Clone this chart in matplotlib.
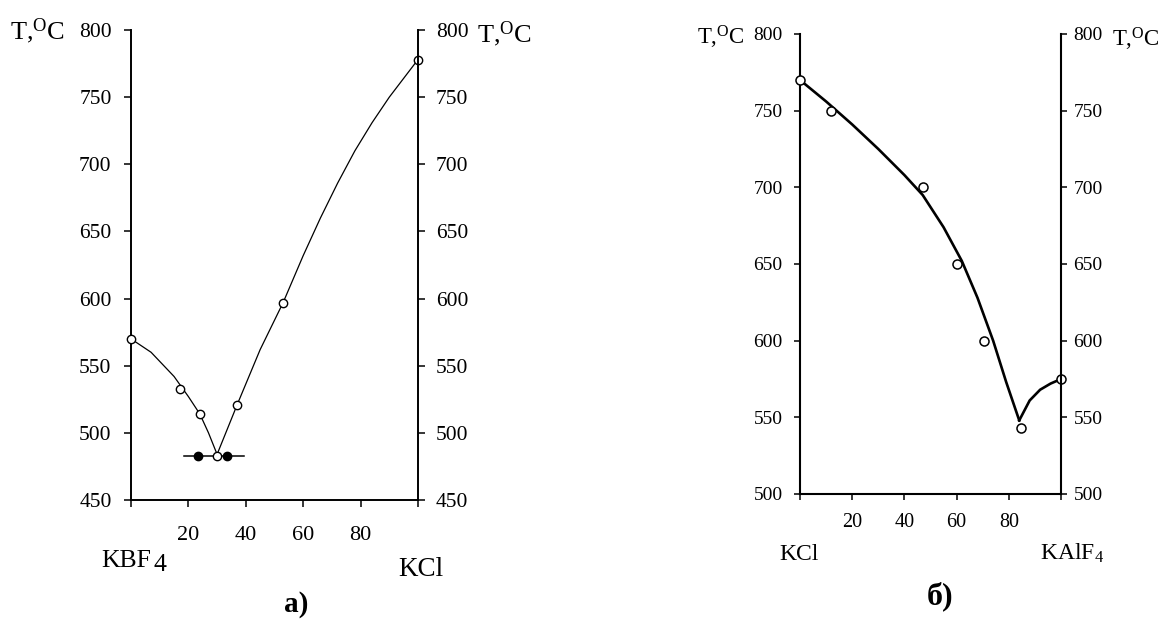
import matplotlib
matplotlib.use("Agg")
import matplotlib.pyplot as plt

plt.rcParams['font.family'] = ['Liberation Serif', 'DejaVu Serif']
plt.rcParams['mathtext.fontset'] = 'custom'
plt.rcParams['mathtext.rm'] = 'Liberation Serif'
plt.rcParams['mathtext.it'] = 'Liberation Serif:italic'
plt.rcParams['mathtext.bf'] = 'Liberation Serif:bold'

# ---------------- data: panel a) KBF4 - KCl ----------------
a_x_open = [0, 17, 24, 30, 37, 53, 100]
a_T_open = [570, 533, 514, 483, 521, 597, 778]
a_x_solid = [23.5, 33.5]
a_T_solid = [483, 483]
a_tie_x = [18.5, 39.5]
a_tie_T = [483, 483]
a_left_x = [0, 7, 15, 20, 24, 27, 30]
a_left_T = [570, 560, 542, 527, 514, 500, 484]
a_right_x = [30, 37, 45, 53, 60, 66, 72, 78, 84, 90, 95, 100]
a_right_T = [484, 521, 562, 597, 632, 660, 686, 710, 731, 750, 764, 778]
a_yticks = [450, 500, 550, 600, 650, 700, 750, 800]
a_xticks = [0, 20, 40, 60, 80, 100]
a_xticklabels = ['', '20', '40', '60', '80', '']

# ---------------- data: panel б) KCl - KAlF4 ----------------
b_x_open = [0, 12, 47, 60, 70.5, 84.5, 100]
b_T_open = [770, 750, 700, 650, 600, 543, 575]
b_left_x = [0, 10, 20, 30, 40, 47, 55, 62, 68, 74, 79, 84]
b_left_T = [770, 756, 741, 725, 708, 695, 674, 652, 628, 600, 573, 548]
b_right_x = [84, 88, 92, 96, 100]
b_right_T = [548, 561, 568, 572, 575]
b_yticks = [500, 550, 600, 650, 700, 750, 800]
b_xticks = [0, 20, 40, 60, 80, 100]
b_xticklabels = ['', '20', '40', '60', '80', '']

W, H = 1167, 619
fig = plt.figure(figsize=(W / 100, H / 100), dpi=100)
fig.patch.set_facecolor('white')


def px_axes(l, r, t, b):
    return fig.add_axes([l / W, 1 - b / H, (r - l) / W, (b - t) / H])


def style(ax, ax2, ylim, yticks, xticks, xlabels, fs, xfs, tl, xpad, lpad, rpad, spw):
    ax.set_xlim(0, 100)
    ax.set_ylim(*ylim)
    ax2.set_ylim(*ylim)
    ax.set_yticks(yticks)
    ax2.set_yticks(yticks)
    ax.set_xticks(xticks)
    ax.set_xticklabels(xlabels)
    for a in (ax, ax2):
        a.spines['top'].set_visible(False)
        for s in a.spines.values():
            s.set_linewidth(spw)
    ax.spines['right'].set_visible(False)
    ax2.spines['left'].set_visible(False)
    ax2.spines['bottom'].set_visible(False)
    ax.tick_params(axis='y', direction='out', length=tl, width=1.1, labelsize=fs, pad=lpad)
    ax.tick_params(axis='x', direction='out', length=tl, width=1.1, labelsize=xfs, pad=xpad)
    ax2.tick_params(axis='y', direction='out', length=tl, width=1.1, labelsize=fs, pad=rpad)


# ---- panel a
axa = px_axes(131, 418, 30, 500)
axa2 = axa.twinx()
style(axa, axa2, (450, 800), a_yticks, a_xticks, a_xticklabels, 15.5, 16, 5, 14, 9, 8, 1.4)
axa.plot(a_left_x, a_left_T, color='black', lw=0.9, zorder=2)
axa.plot(a_right_x, a_right_T, color='black', lw=0.9, zorder=2)
axa.plot(a_tie_x, a_tie_T, color='black', lw=1.1, zorder=2)
axa.plot(a_x_open, a_T_open, linestyle='none', marker='o', ms=6, mfc='white',
         mec='black', mew=1.0, zorder=4, clip_on=False)
axa.plot(a_x_solid, a_T_solid, linestyle='none', marker='o', ms=6, mfc='black',
         mec='black', mew=1.0, zorder=4)

# ---- panel б
axb = px_axes(800, 1061, 34, 494)
axb2 = axb.twinx()
style(axb, axb2, (500, 800), b_yticks, b_xticks, b_xticklabels, 14, 14.5, 4.5, 9.5, 8, 4.5, 1.5)
axb.plot(b_left_x, b_left_T, color='black', lw=1.9, zorder=2)
axb.plot(b_right_x, b_right_T, color='black', lw=1.9, zorder=2)
axb.plot(b_x_open, b_T_open, linestyle='none', marker='o', ms=6.5, mfc='white',
         mec='black', mew=1.1, zorder=4, clip_on=False)


def ftext(x, y, s, **kw):
    fig.text(x / W, 1 - y / H, s, **kw)


tlabel = r'T,$^{\mathrm{O}}$C'
# axis titles
ftext(10, 31, tlabel, fontsize=19, ha='left', va='center')
ftext(477, 34, tlabel, fontsize=19, ha='left', va='center')
ftext(697, 37, tlabel, fontsize=16.5, ha='left', va='center')
ftext(1112, 39, tlabel, fontsize=16.5, ha='left', va='center')

# component labels
ftext(101, 567, 'KBF', fontsize=18.5, ha='left', va='baseline')
ftext(154, 571, '4', fontsize=18.5, ha='left', va='baseline')
ftext(398, 576, 'KCl', fontsize=19.5, ha='left', va='baseline')
ftext(779, 560, 'KCl', fontsize=17, ha='left', va='baseline')
ftext(1040, 560, r'KAlF$_4$', fontsize=17, ha='left', va='baseline')

# panel letters
ftext(296, 612, 'а)', fontsize=21, fontweight='bold', ha='center', va='baseline')
ftext(940, 604, 'б)', fontsize=23, fontweight='bold', ha='center', va='baseline')

fig.savefig('out.png', dpi=100, facecolor='white')
